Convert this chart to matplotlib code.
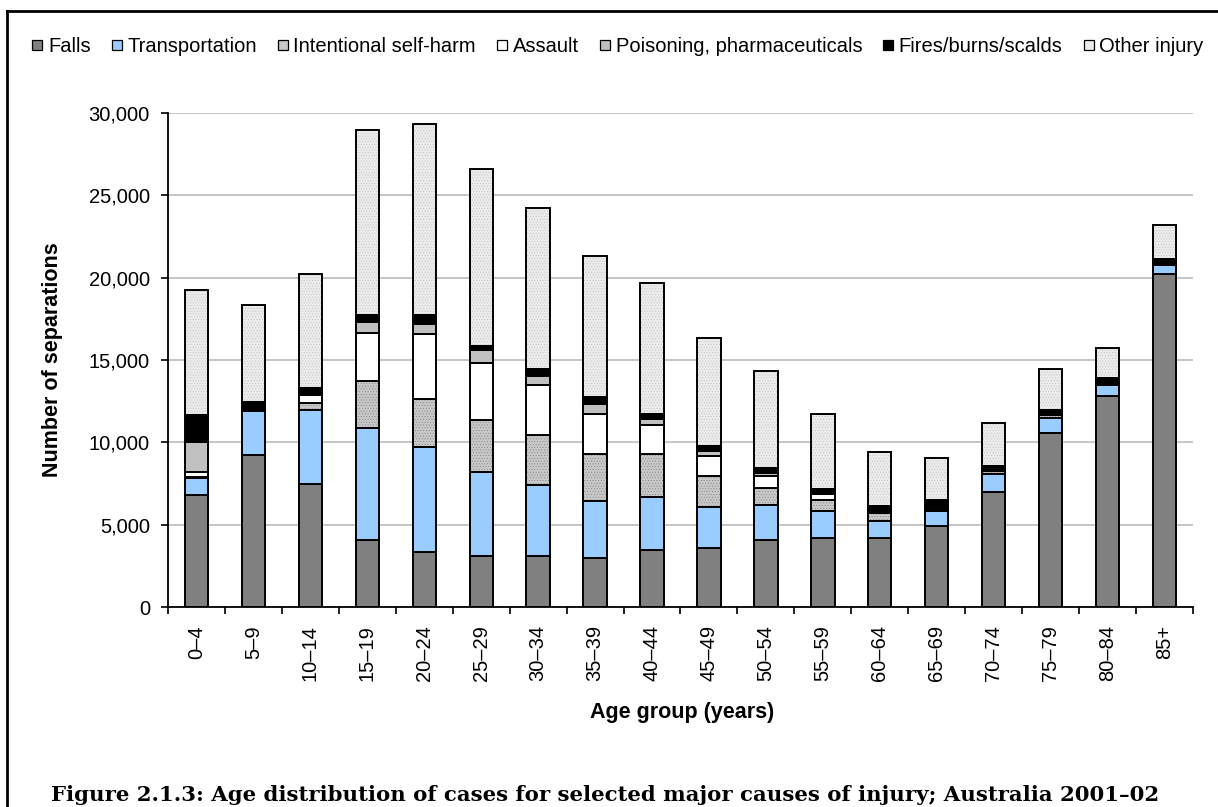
import numpy as np
import matplotlib
matplotlib.use('Agg')
from matplotlib import pyplot as plt
from matplotlib.lines import Line2D

plt.rcParams['font.family'] = ['Liberation Sans', 'DejaVu Sans']
plt.rcParams['hatch.linewidth'] = 0.3

ages = ['0–4', '5–9', '10–14', '15–19', '20–24', '25–29', '30–34', '35–39', '40–44',
        '45–49', '50–54', '55–59', '60–64', '65–69', '70–74', '75–79', '80–84', '85+']

falls = [6780, 9250, 7490, 4090, 3340, 3120, 3100, 3000, 3440,
         3580, 4090, 4190, 4190, 4900, 6980, 10570, 12810, 20240]
transport = [1050, 2650, 4450, 6800, 6380, 5080, 4290, 3420, 3240,
             2490, 2080, 1640, 1030, 910, 1080, 910, 650, 530]
selfharm = [60, 30, 450, 2810, 2930, 3170, 3030, 2850, 2590,
            1900, 1080, 690, 490, 100, 200, 150, 40, 20]
assault = [310, 60, 460, 2960, 3910, 3450, 3040, 2470, 1760,
           1220, 700, 360, 100, 120, 140, 140, 60, 40]
poisoning = [1820, 60, 150, 640, 640, 760, 590, 570, 410,
             280, 190, 60, 60, 80, 80, 60, 60, 60]
fires = [1620, 400, 320, 450, 550, 290, 420, 420, 300,
         290, 320, 250, 240, 370, 100, 110, 280, 260]
other = [7590, 5870, 6880, 11190, 11540, 10710, 9760, 8580, 7910,
         6590, 5870, 4550, 3300, 2570, 2590, 2530, 1850, 2020]

# name, values, fill, stipple colour (None = plain fill)
series = [('Falls', falls, '#808080', None),
          ('Transportation', transport, '#99CCFF', None),
          ('Intentional self-harm', selfharm, '#C8C8C8', '#7a7a7a'),
          ('Assault', assault, '#FFFFFF', None),
          ('Poisoning, pharmaceuticals', poisoning, '#C0C0C0', None),
          ('Fires/burns/scalds', fires, '#000000', None),
          ('Other injury', other, '#EBEBEB', '#bdbdbd')]

fig = plt.figure(figsize=(12.18, 8.07), dpi=100)
ax = fig.add_axes([0.1379, 0.2478, 0.8416, 0.6125])

x = np.arange(len(ages))
w = 0.41
bottom = np.zeros(len(ages))
handles = []
for name, vals, col, dots in series:
    vals = np.array(vals)
    if dots:
        # stipple first, then the black outline on top
        ax.bar(x, vals, w, bottom=bottom, color=col, edgecolor=dots,
               linewidth=0, hatch='......', zorder=2)
        ax.bar(x, vals, w, bottom=bottom, facecolor='none', edgecolor='black',
               linewidth=1.4, zorder=3)
    else:
        ax.bar(x, vals, w, bottom=bottom, color=col, edgecolor='black',
               linewidth=1.4, zorder=3)
    bottom += vals
    handles.append(Line2D([], [], marker='s', linestyle='none', markersize=6.5,
                          markerfacecolor=col, markeredgecolor='black',
                          markeredgewidth=0.9, label=name))

ax.set_xlim(-0.5, len(ages) - 0.5)
ax.set_ylim(0, 30000)
ax.set_yticks(np.arange(0, 30001, 5000))
ax.set_yticklabels([f'{v:,}' for v in range(0, 30001, 5000)], fontsize=14.5)
ax.yaxis.grid(True, color='#C0C0C0', linewidth=1.3, zorder=0)
ax.set_axisbelow(True)

ax.set_xticks(x)
ax.set_xticklabels(ages, rotation=90, fontsize=14.5)
ax.set_xticks(np.arange(-0.5, len(ages)), minor=True)
ax.tick_params(axis='x', which='major', length=0, pad=13)
ax.tick_params(axis='x', which='minor', length=5, width=1.2, direction='out')
ax.tick_params(axis='y', length=5, width=1.2, pad=8)

for s in ['top', 'right']:
    ax.spines[s].set_visible(False)
for s in ['left', 'bottom']:
    ax.spines[s].set_linewidth(1.3)

fig.text(0.043, 0.554, 'Number of separations', rotation=90, ha='center', va='center',
         fontsize=15.5, fontweight='bold')
fig.text(0.56, 0.117, 'Age group (years)', ha='center', va='center',
         fontsize=15.5, fontweight='bold')

fig.legend(handles=handles, loc='center left', bbox_to_anchor=(0.0262, 0.9418, 0.962, 0),
           mode='expand', ncol=7, frameon=False, fontsize=14.5, handlelength=0.55,
           handletextpad=0.25, columnspacing=0.5, borderaxespad=0, borderpad=0)

fig.text(0.497, 0.0074, 'Figure 2.1.3: Age distribution of cases for selected major causes of injury; Australia 2001–02',
         ha='center', va='baseline', fontsize=15.3, fontweight='bold',
         family=['DejaVu Serif'])

# frame round the whole figure (cut at right and bottom)
fig.add_artist(Line2D([0.0057, 0.0057], [0, 0.9864], color='black', linewidth=2,
                      transform=fig.transFigure))
fig.add_artist(Line2D([0.0057, 1.0], [0.9864, 0.9864], color='black', linewidth=2,
                      transform=fig.transFigure))

fig.savefig('out.png', dpi=100)
